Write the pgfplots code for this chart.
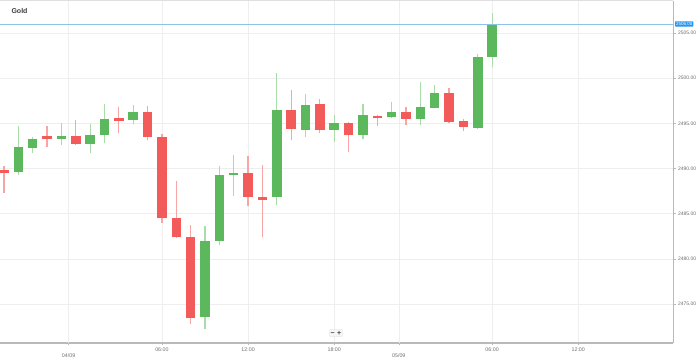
\documentclass[border=0pt]{standalone}
\usepackage{fontspec}
\setmainfont{Liberation Sans}
\usepackage{pgfplots}
\usepackage{pgfplotstable}
\pgfplotsset{compat=1.18}
\definecolor{cgreen}{RGB}{92,184,92}
\definecolor{cred}{RGB}{243,90,90}
\definecolor{wgreen}{RGB}{170,220,170}
\definecolor{wred}{RGB}{248,165,165}
\definecolor{gridc}{RGB}{238,238,238}
\definecolor{axc}{RGB}{185,185,185}
\definecolor{tickc}{RGB}{110,110,110}
\definecolor{priceline}{RGB}{140,196,232}
\definecolor{pricebox}{RGB}{33,150,243}
\definecolor{titlec}{RGB}{60,60,60}

% green (rising) candles
\pgfplotstableread{
x open high low close
1 2489.6 2494.7 2489.3 2492.4
2 2492.3 2493.5 2491.7 2493.25
4 2493.3 2495.05 2492.6 2493.55
6 2492.7 2494.9 2491.7 2493.7
7 2493.7 2497.15 2492.8 2495.5
9 2495.4 2497.0 2494.9 2496.2
14 2473.6 2483.6 2472.2 2481.95
15 2481.95 2490.3 2481.5 2489.3
16 2489.3 2491.5 2487.0 2489.55
19 2486.8 2500.6 2486.0 2496.5
21 2494.3 2498.25 2493.5 2497.0
23 2494.3 2495.9 2492.9 2495.0
25 2493.65 2497.15 2493.25 2495.9
27 2495.65 2497.35 2495.6 2496.2
29 2495.5 2499.6 2494.8 2496.75
30 2496.7 2499.25 2496.7 2498.4
33 2494.5 2502.65 2494.4 2502.3
34 2502.3 2507.2 2501.2 2506.0
}\greentab

% red (falling) candles
\pgfplotstableread{
x open high low close
0 2489.8 2490.3 2487.3 2489.55
3 2493.55 2494.7 2492.4 2493.3
5 2493.6 2495.35 2492.6 2492.7
8 2495.55 2496.85 2493.9 2495.3
10 2496.2 2496.9 2493.1 2493.5
11 2493.5 2493.8 2484.0 2484.5
12 2484.5 2488.65 2482.35 2482.45
13 2482.45 2483.7 2472.8 2473.5
17 2489.55 2491.4 2485.8 2486.85
18 2486.85 2490.4 2482.4 2486.5
20 2496.5 2498.7 2493.1 2494.4
22 2497.1 2497.7 2493.9 2494.3
24 2495.0 2495.1 2491.8 2493.7
26 2495.8 2495.9 2494.75 2495.55
28 2496.2 2496.85 2494.8 2495.5
31 2498.4 2498.9 2495.0 2495.1
32 2495.2 2495.45 2494.2 2494.6
}\redtab

\pgfplotsset{candle/.style={only marks, mark=*, mark size=0pt,
  mark options={draw=none, fill=none}, forget plot,
  error bars/y dir=plus, error bars/y explicit, error bars/error mark=none}}

\begin{document}
\begin{tikzpicture}
\useasboundingbox (0pt,-18pt) rectangle (699pt,343pt);
\begin{axis}[
  at={(0pt,0pt)}, anchor=south west,
  scale only axis, width=673pt, height=342pt,
  xmin=-0.28, xmax=46.6, ymin=2470.68, ymax=2508.54,
  axis x line*=bottom, axis y line*=right,
  x axis line style={draw=axc, line width=1.3pt, -},
  y axis line style={draw=axc, line width=0.9pt, -},
  ytick={2475,2480,2485,2490,2495,2500,2505},
  scaled y ticks=false,
  /pgf/number format/assume math mode=true,
  yticklabel style={font=\fontsize{5}{6}\selectfont, text=tickc, xshift=-1pt,
    /pgf/number format/fixed, /pgf/number format/fixed zerofill,
    /pgf/number format/precision=2, /pgf/number format/1000 sep={}},
  xtick={11,17,23,34,40},
  xticklabels={06:00,12:00,18:00,06:00,12:00},
  xticklabel style={font=\fontsize{5.3}{6}\selectfont, text=tickc, yshift=1pt},
  extra x ticks={4.5,27.5},
  extra x tick labels={04/09,05/09},
  extra x tick style={grid=major, tick label style={yshift=-5.5pt}},
  grid=major, major grid style={draw=gridc, line width=0.6pt},
  tick align=outside, major tick length=2.5pt,
  tick style={draw=axc, line width=0.5pt},
  clip=true,
]
% wicks
\addplot[candle, error bars/error bar style={draw=wgreen, line width=1.2pt}]
  table[x=x, y=low, y error plus expr=\thisrow{high}-\thisrow{low}] {\greentab};
\addplot[candle, error bars/error bar style={draw=wred, line width=1.2pt}]
  table[x=x, y=low, y error plus expr=\thisrow{high}-\thisrow{low}] {\redtab};
% bodies
\addplot[candle, error bars/error bar style={draw=cgreen, line width=9.5pt}]
  table[x=x, y=open, y error plus expr=\thisrow{close}-\thisrow{open}] {\greentab};
\addplot[candle, error bars/error bar style={draw=cred, line width=9.5pt}]
  table[x=x, y=close, y error plus expr=\thisrow{open}-\thisrow{close}] {\redtab};
% last price line
\addplot[priceline, line width=0.7pt, forget plot] coordinates {(-0.28,2506) (46.6,2506)};
\coordinate (pr) at (axis cs:46.6,2506);
\end{axis}
\draw[gray!25, line width=0.8pt] (0pt,343pt) -- (673pt,343pt);
\node[anchor=west, fill=pricebox, text=white, font=\fontsize{4.5}{5}\selectfont,
  inner sep=1pt, rounded corners=0.6pt, xshift=1.8pt] at (pr) {2506.00};
\node[anchor=west, font=\bfseries\fontsize{7}{8}\selectfont, text=titlec] at (8pt,331.5pt) {Gold};
\node[fill=gray!7, draw=gray!18, rounded corners=1pt, inner sep=1.5pt,
  font=\bfseries\fontsize{7}{8}\selectfont, text=black!75] at (336pt,10pt) {−\,\,+};
\end{tikzpicture}
\end{document}
